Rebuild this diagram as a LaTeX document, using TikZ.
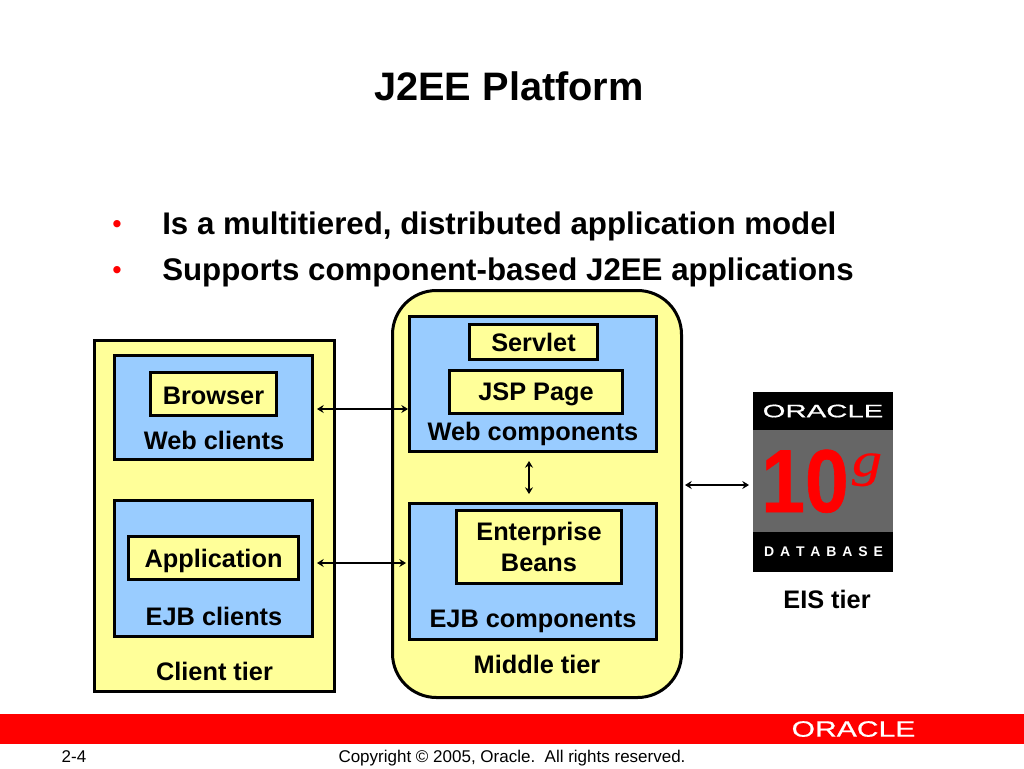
\documentclass[tikz,border=0pt]{standalone}
\usepackage{fontspec}
\setmainfont{Liberation Sans}
\newfontfamily\logofont[FakeBold=0.6]{Liberation Sans}
\newfontfamily\tenfont[BoldFeatures={FakeBold=0.7}]{Liberation Sans}
\newfontfamily\geefont[ItalicFeatures={FakeBold=0.5}]{Liberation Serif}
\newcommand{\lowertext}[3]{\raisebox{-#1}[13.7pt][#2]{#3}}
\usetikzlibrary{arrows.meta}
\definecolor{payel}{HTML}{FFFF99}
\definecolor{pablue}{HTML}{99CCFF}
\definecolor{orared}{HTML}{FF0000}
\definecolor{dbgray}{HTML}{666666}
\tikzset{
  pane/.style={draw=black,line width=2.25pt,inner sep=0pt,outer sep=0pt,font=\fontsize{19}{23}\selectfont\bfseries,align=center},
  tier/.style={pane,fill=payel},
  group/.style={pane,fill=pablue},
  comp/.style={pane,fill=payel},
  lab/.style={inner sep=0pt,font=\fontsize{19}{23}\selectfont\bfseries},
  bul/.style={inner sep=0pt,anchor=base west,font=\fontsize{23.45}{28}\selectfont\bfseries},
  dot/.style={inner sep=0pt,text=orared,anchor=base,font=\fontsize{19}{23}\selectfont\bfseries},
  foot/.style={inner sep=0pt,anchor=base,font=\fontsize{12.75}{15}\selectfont},
  link/.style={line width=2pt,{Stealth[length=5pt,width=6pt]}-{Stealth[length=5pt,width=6pt]}},
  solid box/.style={inner sep=0pt,outer sep=0pt,draw=none},
}
\begin{document}
\begin{tikzpicture}[x=0.75pt,y=-0.75pt]
\useasboundingbox (0,0) rectangle (1024,768);
\fill[white] (0,0) rectangle (1024,768);
% title and bullets
\node[inner sep=0pt,anchor=base,font=\fontsize{29.8}{34}\selectfont\bfseries] (title) at (509,100) {J2EE Platform};
\node[dot] (d1) at (117,232) {•};
\node[bul] (b1) at (162,234) {Is a multitiered, distributed application model};
\node[dot] (d2) at (117,278) {•};
\node[bul] (b2) at (162,280) {Supports component-based J2EE applications};
% tiers
\node[tier,minimum width=180pt,minimum height=263.25pt] (client) at (214.5,516) {};
\node[tier,rounded corners=33pt,minimum width=216.75pt,minimum height=305.25pt] (middle) at (537,494) {};
% groups
\node[group,minimum width=148.5pt,minimum height=78pt] (webc) at (213.5,407.5) {};
\node[group,minimum width=148.5pt,minimum height=102pt] (ejbc) at (213.5,568.5) {};
\node[group,minimum width=185.25pt,minimum height=101.25pt] (webk) at (533,384) {};
\node[group,minimum width=185.25pt,minimum height=102pt] (ejbk) at (533,571.5) {};
% components
\node[comp,minimum width=94.5pt,minimum height=32.25pt] (browser) at (213.5,394) {\lowertext{1.2pt}{0pt}{Browser}};
\node[comp,minimum width=127.5pt,minimum height=32.25pt] (app) at (213.5,558) {\lowertext{2pt}{4pt}{Application}};
\node[comp,minimum width=96pt,minimum height=26.25pt] (servlet) at (533.5,342) {Servlet};
\node[comp,minimum width=129.75pt,minimum height=32.25pt] (jsp) at (536,392) {\lowertext{1.5pt}{4pt}{JSP Page}};
\node[comp,minimum width=123.75pt,minimum height=54.75pt] (ent) at (539,547) {Enterprise\\Beans};
% labels
\node[lab] (lwc) at (214,440) {Web clients};
\node[lab] (lec) at (214,616) {EJB clients};
\node[lab] (lct) at (214.5,671) {Client tier};
\node[lab] (lwk) at (533,434) {Web components};
\node[lab] (lek) at (533,621) {EJB components};
\node[lab] (lmt) at (537,664) {Middle tier};
% database logo
\node[solid box,fill=black,minimum width=105pt,minimum height=135pt] (logo) at (823,482) {};
\fill[dbgray] (753,430) rectangle (893,532);
\node[inner sep=0pt,text=white,font=\logofont\fontsize{13.5}{16}\selectfont,xscale=1.63] (ora) at (823,411) {ORACLE};
\node[inner sep=0pt,text=orared,anchor=base,font=\tenfont\fontsize{67}{70}\selectfont\bfseries,xscale=0.88] (ten) at (805,512) {10};
\node[inner sep=0pt,text=orared,anchor=base,font=\geefont\fontsize{36}{38}\selectfont\itshape,xscale=1.25] (gee) at (867,476) {g};
\node[inner sep=0pt,text=white,font=\fontsize{10.5}{12}\selectfont\bfseries] (dbt) at (823.5,552) {D\hspace{4.4pt}A\hspace{4.4pt}T\hspace{4.4pt}A\hspace{4.4pt}B\hspace{4.4pt}A\hspace{4.4pt}S\hspace{4.4pt}E};
\node[lab] (leis) at (827,599) {EIS tier};
% connectors
\coordinate (ra) at (317,409); \coordinate (rb) at (408,409);
\coordinate (sa) at (317,563); \coordinate (sb) at (406,563);
\coordinate (va) at (529,461); \coordinate (vb) at (529,494);
\coordinate (da) at (685,485); \coordinate (db) at (749,485);
\draw[link] (ra) -- (rb);
\draw[link] (sa) -- (sb);
\draw[link] (va) -- (vb);
\draw[link] (da) -- (db);
% footer
\fill[orared] (0,714) rectangle (1024,744);
\node[inner sep=0pt,text=white,font=\logofont\fontsize{16.6}{18}\selectfont,xscale=1.36] (ora2) at (853.5,729) {ORACLE};
\node[foot] (fl) at (74,762) {2-4};
\node[foot] (fc) at (512,762) {Copyright © 2005, Oracle.\ \ All rights reserved.};
\end{tikzpicture}
\end{document}
